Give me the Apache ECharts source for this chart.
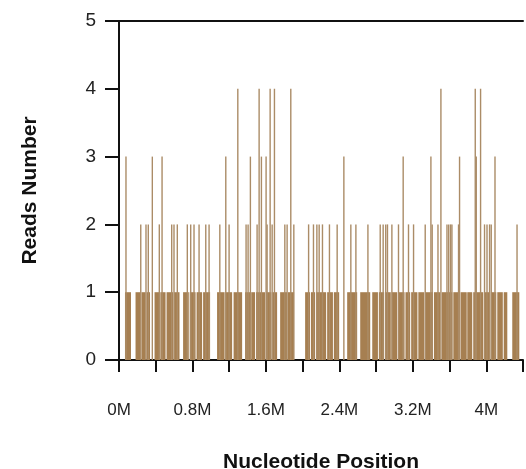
<!DOCTYPE html>
<html><head><meta charset="utf-8">
<script src="https://cdn.jsdelivr.net/npm/echarts@6/dist/echarts.min.js"></script>
<style>html,body{margin:0;padding:0;background:#fff}#c{width:526px;height:469px}</style>
</head><body><div id="c"></div>
<script>
// Height-1 coverage blocks (Mb): start / end
const blockStart = [0.065,0.180,0.245,0.300,0.387,0.450,0.518,0.600,0.698,0.770,0.845,0.916,1.068,1.160,1.248,1.373,1.440,1.493,1.602,1.670,1.755,1.840,2.027,2.090,2.147,2.267,2.340,2.485,2.627,2.758,2.830,2.899,2.970,3.041,3.120,3.182,3.260,3.335,3.430,3.515,3.641,3.720,3.793,3.858,3.978,4.050,4.120,4.190,4.283];
const blockEnd   = [0.131,0.234,0.290,0.338,0.440,0.507,0.590,0.659,0.760,0.834,0.905,0.992,1.150,1.232,1.341,1.430,1.482,1.591,1.660,1.722,1.830,1.907,2.080,2.136,2.256,2.330,2.398,2.594,2.736,2.820,2.888,2.960,3.030,3.110,3.171,3.250,3.324,3.420,3.499,3.630,3.710,3.787,3.847,3.967,4.040,4.109,4.180,4.229,4.360];
const blockReads = blockStart.map(()=>1);
// Single-site peaks (Mb) and their read counts
const peakPos = [0.237,0.294,0.319,0.439,0.574,0.599,0.635,0.744,0.781,0.817,0.872,0.945,0.981,1.098,1.199,1.384,1.406,1.504,1.613,1.668,1.806,1.831,1.904,2.065,2.118,2.155,2.180,2.216,2.292,2.376,2.525,2.580,2.711,2.845,2.877,2.905,2.924,2.972,3.044,3.153,3.208,3.335,3.411,3.474,3.572,3.591,3.611,3.626,3.698,3.981,4.008,4.036,4.054,4.335,
  0.076,0.363,0.469,1.163,1.431,1.551,1.602,2.449,3.095,3.397,3.709,3.891,4.095,
  1.294,1.526,1.646,1.693,1.871,3.506,3.880,3.938];
const peakReads = [2,2,2,2,2,2,2,2,2,2,2,2,2,2,2,2,2,2,2,2,2,2,2,2,2,2,2,2,2,2,2,2,2,2,2,2,2,2,2,2,2,2,2,2,2,2,2,2,2,2,2,2,2,2,
  3,3,3,3,3,3,3,3,3,3,3,3,3,
  4,4,4,4,4,4,4,4];
const yTicks = [0,1,2,3,4,5];

const BAR = '#a67f51';
const FONT = 'Liberation Sans, Arial, sans-serif';
const chart = echarts.init(document.getElementById('c'), null, {renderer:'canvas'});
const blocks = blockStart.map((s,i)=>[s, blockEnd[i], blockReads[i]]);
const peaks = peakPos.map((p,i)=>[p, peakReads[i]]);
chart.setOption({
  animation:false,
  grid:{left:119, top:21, height:339, width:404, containLabel:false, outerBoundsMode:'none'},
  xAxis:[{
    type:'value', min:0, max:4.4, interval:0.4,
    name:'Nucleotide Position', nameLocation:'middle', nameGap:92,
    nameTextStyle:{fontFamily:FONT, fontWeight:'bold', fontSize:21, color:'#111'},
    axisLine:{lineStyle:{color:'#111', width:2}},
    axisTick:{show:true, length:12, lineStyle:{color:'#111', width:2}},
    splitLine:{show:false},
    axisLabel:{margin:42, fontFamily:FONT, fontSize:17, color:'#222',
      formatter:function(v){const k=Math.round(v/0.4); if(Math.abs(v-k*0.4)>1e-6||k%2) return ''; return (+(k*0.4).toFixed(1))+'M';}}
  },{
    type:'value', position:'top', min:0, max:4.4,
    axisLine:{show:true, lineStyle:{color:'#111', width:2}},
    axisTick:{show:false}, axisLabel:{show:false}, splitLine:{show:false}
  }],
  yAxis:{
    type:'value', min:yTicks[0], max:yTicks[yTicks.length-1], interval:1,
    name:'Reads Number', nameLocation:'middle', nameGap:78,
    nameTextStyle:{fontFamily:FONT, fontWeight:'bold', fontSize:21, color:'#111'},
    axisLine:{show:true, lineStyle:{color:'#111', width:2}},
    axisTick:{show:true, length:14, lineStyle:{color:'#111', width:2}},
    splitLine:{show:false},
    axisLabel:{margin:23, fontFamily:FONT, fontSize:19, color:'#222'}
  },
  series:[{
    type:'custom', xAxisIndex:0, data:blocks, clip:false,
    renderItem:function(params, api){
      const p0 = api.coord([api.value(0), 0]);
      const p1 = api.coord([api.value(1), api.value(2)]);
      return {type:'rect', shape:{x:p0[0], y:p1[1], width:Math.max(p1[0]-p0[0],1.2), height:p0[1]-p1[1]}, style:{fill:BAR}};
    }
  },{
    type:'custom', xAxisIndex:0, data:peaks, clip:false,
    renderItem:function(params, api){
      const p0 = api.coord([api.value(0), 0]);
      const p1 = api.coord([api.value(0), api.value(1)]);
      return {type:'rect', shape:{x:p0[0]-0.7, y:p1[1], width:1.4, height:p0[1]-p1[1]}, style:{fill:'#ab8c67'}};
    }
  }]
});
</script></body></html>
